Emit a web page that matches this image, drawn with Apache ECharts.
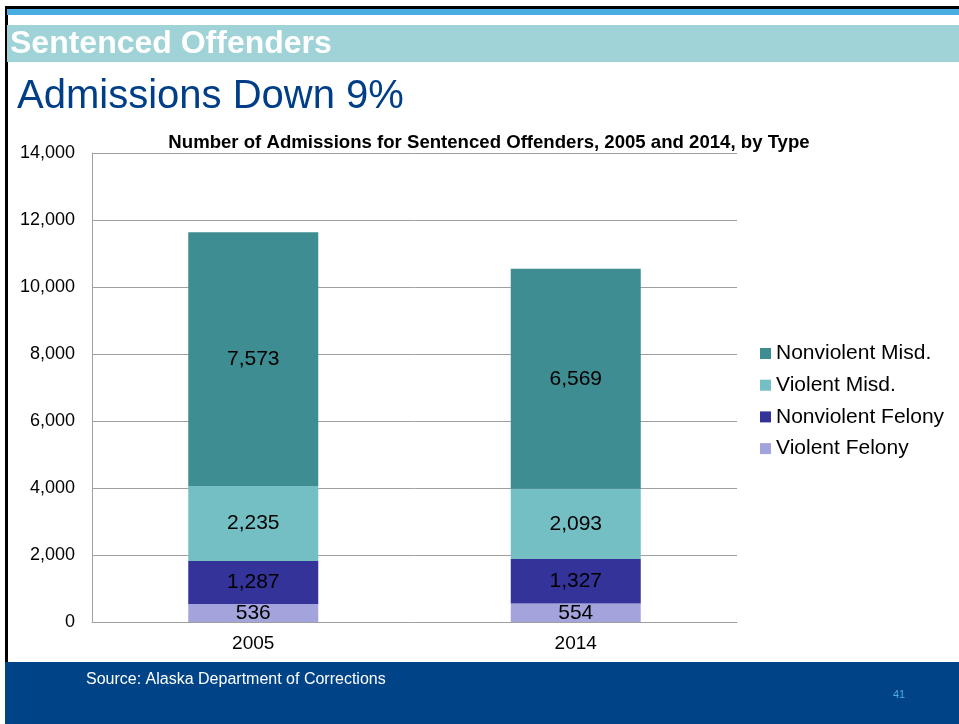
<!DOCTYPE html>
<html><head><meta charset="utf-8">
<script src="https://cdn.jsdelivr.net/npm/echarts@6/dist/echarts.min.js"></script>
<style>html,body{margin:0;padding:0;background:#fff}#c{width:959px;height:724px}</style>
</head><body><div id="c"></div>
<script>
const categories = ['2005', '2014'];
const violentFelony = [536, 554];
const nonviolentFelony = [1287, 1327];
const violentMisd = [2235, 2093];
const nonviolentMisd = [7573, 6569];
const yTicks = [0, 2000, 4000, 6000, 8000, 10000, 12000, 14000];

const chart = echarts.init(document.getElementById('c'), null, {renderer: 'canvas'});
const FONT = 'Liberation Sans, Arial, sans-serif';
const fmt = v => v.toLocaleString('en-US');
function ser(name, data, color) {
  return {
    name, type: 'bar', stack: 'a', data, barWidth: 130,
    itemStyle: {color},
    label: {show: true, position: 'inside', color: '#000', fontSize: 21, fontFamily: FONT,
      formatter: p => fmt(p.value)}
  };
}
chart.setOption({
  animation: false,
  textStyle: {fontFamily: FONT},
  title: {text: 'Number of Admissions for Sentenced Offenders, 2005 and 2014, by Type',
    left: 484, textAlign: 'center', top: 128,
    textStyle: {fontSize: 18.6, fontWeight: 'bold', color: '#000', fontFamily: FONT}},
  grid: {left: 92, right: 222, top: 153, bottom: 102},
  legend: {
    orient: 'vertical', left: 760, top: 343, padding: 0, itemGap: 10.7, itemWidth: 11, itemHeight: 11,
    icon: 'rect',
    data: ['Nonviolent Misd.', 'Violent Misd.', 'Nonviolent Felony', 'Violent Felony'],
    textStyle: {fontSize: 21, color: '#000', fontFamily: FONT, padding: [0, 0, 0, 0]}
  },
  xAxis: {type: 'category', data: categories,
    axisLine: {lineStyle: {color: '#a0a0a0', width: 1}},
    axisTick: {show: false},
    axisLabel: {fontSize: 19, color: '#000', margin: 12, fontFamily: FONT}},
  yAxis: {type: 'value', min: 0, max: 14000, interval: 2000,
    axisLine: {show: true, lineStyle: {color: '#a0a0a0'}},
    axisTick: {show: false},
    splitLine: {lineStyle: {color: '#a0a0a0'}},
    axisLabel: {fontSize: 18, color: '#000', margin: 17, fontFamily: FONT, formatter: v => fmt(v)}},
  series: [
    ser('Violent Felony', violentFelony, '#a4a4dc'),
    ser('Nonviolent Felony', nonviolentFelony, '#333399'),
    ser('Violent Misd.', violentMisd, '#73bfc4'),
    ser('Nonviolent Misd.', nonviolentMisd, '#3e8d92')
  ],
  graphic: [
    {type: 'rect', shape: {x: 5, y: 6, width: 954, height: 3}, style: {fill: '#000'}},
    {type: 'rect', shape: {x: 5, y: 6, width: 3, height: 660}, style: {fill: '#000'}},
    {type: 'rect', shape: {x: 7, y: 9, width: 952, height: 6}, style: {fill: '#4aaee3'}},
    {type: 'rect', shape: {x: 7, y: 25, width: 952, height: 37}, style: {fill: '#9fd3d7'}},
    {type: 'text', left: 10, top: 28, style: {text: 'Sentenced Offenders', fill: '#fff',
      font: 'bold 32px ' + FONT}},
    {type: 'text', left: 17, top: 77, style: {text: 'Admissions Down 9%', fill: '#003f87',
      font: '40px ' + FONT}},
    {type: 'rect', shape: {x: 5, y: 662, width: 954, height: 62}, style: {fill: '#004387'}},
    {type: 'text', left: 86, top: 672, style: {text: 'Source: Alaska Department of Corrections',
      fill: '#fff', font: '16px ' + FONT}},
    {type: 'text', left: 893, top: 689, style: {text: '41', fill: '#4aaee3', font: '11px ' + FONT}}
  ]
});
</script></body></html>
